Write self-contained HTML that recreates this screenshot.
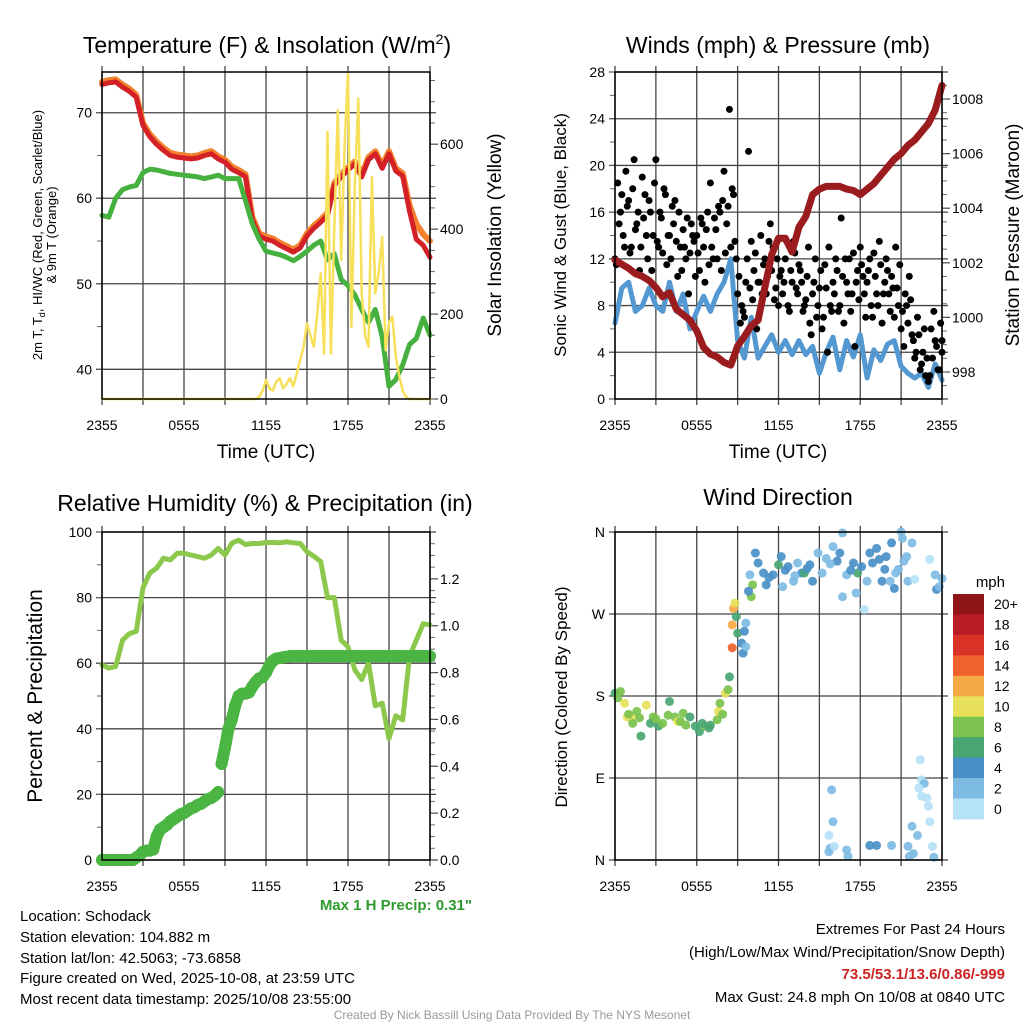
<!DOCTYPE html>
<html>
<head>
<meta charset="utf-8">
<style>
html,body{margin:0;padding:0;background:#fff;}
svg{display:block;font-family:"Liberation Sans",Arial,sans-serif;}
</style>
</head>
<body>
<svg id="chart" width="1024" height="1024" viewBox="0 0 1024 1024" xmlns="http://www.w3.org/2000/svg">
  <rect x="0" y="0" width="1024" height="1024" fill="#fff"/>
  <text x="267" y="53" font-size="23" text-anchor="middle">Temperature (F) &amp; Insolation (W/m<tspan font-size="14" dy="-9">2</tspan><tspan dy="9">)</tspan></text>
  <text x="778" y="53" font-size="23" text-anchor="middle">Winds (mph) &amp; Pressure (mb)</text>
  <text x="265" y="511" font-size="23" text-anchor="middle">Relative Humidity (%) &amp; Precipitation (in)</text>
  <text x="778" y="505" font-size="23" text-anchor="middle">Wind Direction</text>
  <text x="266" y="458" font-size="19" text-anchor="middle">Time (UTC)</text>
  <text x="778" y="458" font-size="19" text-anchor="middle">Time (UTC)</text>
  <text transform="translate(42,235) rotate(-90)" font-size="13" text-anchor="middle">2m T, T<tspan font-size="9" dy="3">d</tspan><tspan dy="-3">, HI/WC (Red, Green, Scarlet/Blue)</tspan></text>
  <text transform="translate(56,235) rotate(-90)" font-size="13" text-anchor="middle">&amp; 9m T (Orange)</text>
  <text transform="translate(501,235) rotate(-90)" font-size="19" text-anchor="middle">Solar Insolation (Yellow)</text>
  <text transform="translate(566,235) rotate(-90)" font-size="17" text-anchor="middle">Sonic Wind &amp; Gust (Blue, Black)</text>
  <text transform="translate(1019,235) rotate(-90)" font-size="19" text-anchor="middle">Station Pressure (Maroon)</text>
  <text transform="translate(42,696) rotate(-90)" font-size="21" text-anchor="middle">Percent &amp; Precipitation</text>
  <text transform="translate(567,697) rotate(-90)" font-size="17" text-anchor="middle">Direction (Colored By Speed)</text>
  <text x="1005" y="587" font-size="15" text-anchor="end">mph</text>
  <text x="472" y="910" font-size="15" font-weight="bold" fill="#2e9a2e" text-anchor="end">Max 1 H Precip: 0.31"</text>
  <g font-size="15">
    <text x="20" y="921">Location: Schodack</text>
    <text x="20" y="942">Station elevation: 104.882 m</text>
    <text x="20" y="963">Station lat/lon: 42.5063; -73.6858</text>
    <text x="20" y="983">Figure created on Wed, 2025-10-08, at 23:59 UTC</text>
    <text x="20" y="1004">Most recent data timestamp: 2025/10/08 23:55:00</text>
  </g>
  <g font-size="15" text-anchor="end">
    <text x="1005" y="934">Extremes For Past 24 Hours</text>
    <text x="1005" y="957">(High/Low/Max Wind/Precipitation/Snow Depth)</text>
    <text x="1005" y="979" font-weight="bold" fill="#cc2222">73.5/53.1/13.6/0.86/-999</text>
    <text x="1005" y="1002">Max Gust: 24.8 mph On 10/08 at 0840 UTC</text>
  </g>
  <text x="512" y="1019" font-size="12" fill="#999" text-anchor="middle">Created By Nick Bassill Using Data Provided By The NYS Mesonet</text>
</svg>
<script>
const timeTickLabels = ["2355","0555","1155","1755","2355"];
const timeTickHours = [0,6,12,18,24];
const tempTicks = [40,50,60,70];
const solarTicks = [0,200,400,600];
const windTicks = [0,4,8,12,16,20,24,28];
const pressureTicks = [998,1000,1002,1004,1006,1008];
const rhTicks = [0,20,40,60,80,100];
const precipTicks = [0.0,0.2,0.4,0.6,0.8,1.0,1.2];
const dirTicks = [0,90,180,270,360];
const dirTickLabels = ["N","E","S","W","N"];
const speedBinLabels = ["0","2","4","6","8","10","12","14","16","18","20+"];
const speedBinColors = ["#b5e2f7","#7fbce4","#4a90c8","#49a673","#7cc24e","#e6e05a","#f6aa45","#ef622c","#d93328","#b81c24","#8f1519"];

const tempRed = [73.3,73.5,73.6,73,72.5,71.8,68.5,67.2,66.3,65.6,65,64.8,64.7,64.6,64.7,65,65.2,64.6,64.2,63.4,63,62.5,57.5,55.6,55.2,55,54.5,54.1,53.7,54.2,55.6,56.5,57.2,58,61.5,62.5,63.3,64,62.5,64.5,65.2,63.5,65.2,63.2,62.6,58.5,55.2,54.5,53.1];
const tempOrange = [73.6,73.8,73.9,73.3,72.8,72.1,68.8,67.5,66.6,65.9,65.3,65.1,65,64.9,65,65.3,65.5,64.9,64.5,63.7,63.3,62.8,57.8,55.9,55.5,55.3,54.8,54.4,54,54.5,55.9,56.8,57.5,58.3,61.8,62.8,63.6,64.3,62.8,64.8,65.5,63.8,65.5,63.5,62.9,59.2,57,55.8,55];
const dewpoint = [58,57.8,60,61,61.3,61.5,63,63.4,63.3,63.1,62.9,62.8,62.7,62.6,62.5,62.3,62.5,62.7,62.3,62.3,62.3,59.7,57,55.2,53.8,53.6,53.4,53.1,52.7,53.2,53.8,54.5,55,52.8,53.5,50.5,49.8,48.7,47,45.5,47,43.8,38,38.8,40.5,42.9,43.6,46,44];
const solar = [0,0,0,0,0,0,0,0,0,0,0,0,0,0,0,0,0,0,0,0,0,0,0,0,0,0,0,0,0,0,0,0,0,0,0,0,0,0,0,0,0,0,0,0,0,0,
 5,20,45,25,20,40,49,25,35,49,30,60,92,123,178,150,123,200,296,107,629,107,400,680,327,600,770,170,500,707,249,150,123,523,249,300,382,115,180,194,100,53,20,5,0,0,0,0,0,0,0];
const windSpeed = [6.5,9.5,10,7.5,8,9.5,8,7.5,10,7.5,9,6,7.5,8.8,7.5,9,10,12,5,3.5,7,3.5,4.5,5.5,4,5,3.8,5,3.8,4.5,2.2,4,5.3,2.5,5,3.6,5.5,1.8,4.2,3.3,4.7,5,2.8,2.2,1.8,2.2,1,3,1.6];
const pressure = [1002.1,1001.95,1001.8,1001.6,1001.5,1001.35,1001.1,1000.75,1000.9,1000.3,1000.1,999.9,999.5,998.9,998.65,998.55,998.35,998.25,998.95,999.3,999.7,999.9,1001.1,1002.3,1002.9,1002.9,1002.4,1003.3,1003.7,1004.5,1004.7,1004.8,1004.8,1004.8,1004.7,1004.65,1004.5,1004.7,1004.9,1005.2,1005.5,1005.8,1006,1006.3,1006.5,1006.8,1007.1,1007.6,1008.5];
const gusts = [12,18.5,16,14,19.5, 17,13,20.5,15,11, 19,17.5,12,16,14, 20.5,13,15.5,18,11.5, 14,16.5,17,10.5,13,
 14.5,12,9,15,13.5, 14,11,15,10,16, 18.5,12,14.5,16.5,11, 19.5,15,24.8,18,13.5, 9,6.5,7.5,10,21.2,
 13.5,11,6,10,9, 12,10.5,15,13,9.5, 8,11,10,13.5,7.5, 10,12.5,9,11,7.5, 8.5,13,5.5,10,7,
 9.5,6,11.5,4,8, 10,12,7.5,15.5,6.5, 10,12,9,4.5,11, 13,10.5,7,11,8, 12.5,9,13.5,6.5,10,
 11,7.5,9.5,13,8, 6,4.5,8,10.5,5.5, 3.5,7,2.5,4,2, 1.5,6,7.5,4.5,2.5,5];
const gusts2 = [11.5,15,17.5,13,16.5, 12.5,18,14.5,16,13, 15.5,14,17,11,18.5, 13.5,16,12.5,17.5,14, 12,15,13.5,16,11,
 13,15.5,12.5,14,10.5, 12.5,15.5,13,14.5,11.5, 13,15.5,12,16,17, 12.5,16.5,13,17.5,12, 10.5,8,7,12,9.5,
 8.5,12.5,10,14,11.5, 9,13.5,11,8.5,12, 10.5,9,12,8,11, 13.5,9.5,11.5,10,8, 10.5,6.5,9,12,8,
 11,7,9.5,13,7.5, 9,11,8,10.5,12, 9,7.5,12.5,10,8.5, 11.5,9,10,12,7, 10.5,8,11.5,9,12,
 9,10.5,7,9.5,11.5, 7.5,9,6.5,8.5,5, 4,5.5,3,6,3.5, 2,3.5,5,2.5,6.5,4];
const relHumidity = [59.5,58.5,59,67,69,69.7,83,87.5,89,92,91.5,93.5,93.5,93,92.5,92,93,95,93,96.6,97.5,96.2,96.5,96.5,96.8,96.8,96.7,97,96.7,96.5,94,92.6,91,80,80,67,65,58,55,60,47,47.8,37,44,42.7,62,67,72,71.7];
const precip = [0,0,0,0,0,0,0,0,0,0,
 0.01,0.02,0.035,0.04,0.04,0.045,0.1,0.13,0.14,0.15,0.165,0.175,0.185,0.195,0.2,0.21,0.22,0.225,0.235,0.24,0.25,0.26,0.265,0.275,0.29,0.41,0.48,0.56,0.6,0.66,0.7,0.71,0.71,0.715,0.74,0.76,0.775,0.78,0.8,0.83,0.85,0.86,0.862,0.865,0.867,
 0.87,0.87,0.87,0.87,0.87,0.87,0.87,0.87,0.87,0.87,0.87,0.87,0.87,0.87,0.87,0.87,0.87,0.87,0.87,0.87,0.87,0.87,0.87,0.87,0.87,0.87,0.87,0.87,0.87,0.87,0.87,0.87,0.87,0.87,0.87,0.87,0.87,0.87,0.87,0.87,0.87,0.87];
const dirHours = [0,0.4,0.7,0.9,1.2,1.3,1.9,1.8,2.3,2.8,3.2,3.5,4,3.9,4.4,4.6,5,5.5,5.9,6.2,6.6,7,7.5,7.6,7.7,8.1,8.3,8.4,8.6,8.6,8.7,8.8,8.9,9,9.3,9.4,9.5,9.6,9.6,10,10.1,9.8,9.9,10.3,10.5,10.9,11.1,11.6,12,12.2,12.3,12.7,13.1,13.4,13.7,13.9,14.3,14.5,14.9,15.2,15.5,16,16.3,16.5,16.7,17,16.7,17.5,17.7,17.8,18.3,18.5,18.7,18.9,19.2,19.6,19.8,19.9,20.2,20.3,20.5,20.8,21,21.1,21.4,21.5,21.8,22,23.1,23.5,23.6,23.8,24,
 15.9,16,15.7,15.8,15.7,16.1,17,17.1,18.7,19.2,20.3,21.5,21.9,21.6,21.8,22.2,22.4,22.5,22.7,22.3,22.5,22.9,23,23.1,23.3,23.4,
 0.2,1.0,1.6,2.6,3.0,4.8,5.2,6.4,6.9,7.9,11.3,12.5,13.2,14.1,15.8,17.3,18.1,19.4,20.6,21.2];
const dirDegrees = [183,185,172,157,157,150,136,156,170,157,147,150,174,159,157,152,161,157,147,141,147,148,154,163,172,183,187,201,233,258,276,282,267,249,238,227,251,260,234,289,302,295,313,337,326,315,302,313,324,333,300,322,306,326,315,315,324,306,337,315,331,344,328,337,289,313,359,326,293,315,275,306,337,326,342,306,319,333,306,348,298,319,360,353,333,306,348,308,330,313,297,300,309,
 77,42,27,13,9,15,11,4,16,16,16,15,7,4,37,27,110,88,84,79,70,68,59,42,15,3,
 178,160,163,150,155,152,148,150,145,160,310,318,312,320,325,318,322,330,315,328];
const dirSpeeds = [6,8,10,10,10,8,6,8,10,9,7,8,7,8,9,10,8,6,6,6,8,7,8,10,8,10,9,6,14,12,12,10,6,6,5,4,4,3,3,8,8,4,3,4,4,4,4,4,6,4,3,4,3,3,4,6,4,4,3,3,3,3,4,4,3,3,3,4,3,6,1,3,4,4,4,4,4,4,3,4,4,3,3,3,3,3,3,1,1,3,4,3,3,
 3,3,1,3,3,1,3,3,4,4,3,3,3,3,3,3,1,1,2,1,1,1,1,1,1,2,
 8,9,8,7,8,9,8,7,6,8,4,4,3,4,3,4,4,4,3,3];

const NS = "http://www.w3.org/2000/svg";
const svg = document.getElementById('chart');
function mk(tag, attrs, parent){
  const e = document.createElementNS(NS, tag);
  for (const k in attrs) e.setAttribute(k, attrs[k]);
  (parent || svg).appendChild(e);
  return e;
}
const P1 = {L:102,R:430,T:72,B:399};
const P2 = {L:615,R:942,T:72,B:399};
const P3 = {L:102,R:430,T:532,B:860};
const P4 = {L:615,R:942,T:532,B:860};
const tempRange = [36.53,74.76], solarRange=[0,770];
const windRange = [0,28], presRange=[997.01,1008.99];
const rhRange = [0,100], precRange=[0,1.4];
const dirRange = [0,360];
function xs(p,t){ return p.L + t/24*(p.R-p.L); }
function ys(p,v,r){ return p.B - (v-r[0])/(r[1]-r[0])*(p.B-p.T); }

function drawFrame(p, name){
  const g = mk('g',{});
  
  
  for (let h=0; h<=24; h+=3){
    const x = xs(p,h);
    const ln = mk('line',{x1:x,y1:p.T-6,x2:x,y2:p.B+6,stroke:'#444','stroke-width':1.3},g);
    
    
  }
  timeTickHours.forEach((h,i)=>{
    const tx = mk('text',{x:xs(p,h),y:p.B+31,'font-size':14,'text-anchor':'middle'});
    tx.textContent = timeTickLabels[i];
    
    
  });
  return g;
}
function hGrid(p, ticks, range, labels, side, grid, minorStep){
  ticks.forEach((v,i)=>{
    const y = ys(p,v,range);
    if (grid){
      const ln = mk('line',{x1:p.L-6,y1:y,x2:p.R+6,y2:y,stroke:'#444','stroke-width':1.3});
      
      
    } else {
      const ln = mk('line',{x1:p.R,y1:y,x2:p.R+8,y2:y,stroke:'#444','stroke-width':1.2});
      
      
    }
    const tx = mk('text',{x: side==='left' ? p.L-10 : p.R+10, y:y+5,'font-size':14,'text-anchor': side==='left'?'end':'start'});
    tx.textContent = labels ? labels[i] : String(v);
    
    
  });
  if (minorStep){
    for (let v=Math.ceil(range[0]/minorStep)*minorStep; v<=range[1]; v+=minorStep){
      const y = ys(p,v,range);
      const x0 = side==='left' ? p.L-5 : p.R, x1 = side==='left' ? p.L : p.R+5;
      const ln = mk('line',{x1:x0,y1:y,x2:x1,y2:y,stroke:'#666','stroke-width':1});
      
      
    }
  }
}
function border(p,name){
  const r = mk('rect',{x:p.L,y:p.T,width:p.R-p.L,height:p.B-p.T,fill:'none',stroke:'#000','stroke-width':1.5});
  
  
}
function line(p, arr, range, color, width, name){
  const step = 24/(arr.length-1);
  const pts = arr.map((v,i)=> xs(p,i*step).toFixed(1)+','+ys(p,v,range).toFixed(1)).join(' ');
  const pl = mk('polyline',{points:pts,fill:'none',stroke:color,'stroke-width':width,'stroke-linejoin':'round','stroke-linecap':'round'});
  
  
  return pl;
}

drawFrame(P1,'temperature');
hGrid(P1, tempTicks, tempRange, null, 'left', true, 5);
hGrid(P1, solarTicks, solarRange, null, 'right', false, 50);
line(P1, tempOrange, tempRange, '#f3812d', 6, 'nine-meter-temperature-line');
line(P1, tempRed, tempRange, '#d42027', 5, 'two-meter-temperature-line');
line(P1, dewpoint, tempRange, '#46b13f', 5, 'dewpoint-line');
line(P1, solar, solarRange, '#f7e05a', 2.5, 'solar-insolation-line');
border(P1,'temperature');

drawFrame(P2,'winds');
hGrid(P2, windTicks, windRange, null, 'left', true, 2);
hGrid(P2, pressureTicks, presRange, null, 'right', false, 0.5);
line(P2, windSpeed, windRange, '#5498d2', 5, 'sonic-wind-line');
{
  const g = mk('g',{});
  
  
  const step = 24/(gusts.length-1);
  gusts.forEach((v,i)=>{
    const c = mk('circle',{cx:xs(P2,i*step),cy:ys(P2,v,windRange),r:3.5,fill:'#000'},g);
    
    
  });
  const step2 = 24/(gusts2.length-1);
  gusts2.forEach((v,i)=>{
    const t = Math.min(24, i*step2 + 0.1);
    const c = mk('circle',{cx:xs(P2,t),cy:ys(P2,v,windRange),r:3.5,fill:'#000'},g);
    
    
  });
}
line(P2, pressure, presRange, '#9b1c1f', 7, 'station-pressure-line');
border(P2,'winds');

drawFrame(P3,'humidity');
hGrid(P3, rhTicks, rhRange, null, 'left', true, 10);
hGrid(P3, precipTicks, precRange, precipTicks.map(v=>v.toFixed(1)), 'right', false, 0.05);
line(P3, relHumidity, rhRange, '#8cc84b', 5, 'relative-humidity-line');
{
  const step = 24/(precip.length-1);
  const g = mk('g',{});
  
  
  for (let i=1;i<precip.length;i++){
    if (precip[i]-precip[i-1] > 0.1) continue;
    const s = mk('line',{x1:xs(P3,(i-1)*step),y1:ys(P3,precip[i-1],precRange),x2:xs(P3,i*step),y2:ys(P3,precip[i],precRange),stroke:'#4bb543','stroke-width':12,'stroke-linecap':'round'},g);
    
    
  }
  precip.forEach((v,i)=>{
    const c = mk('circle',{cx:xs(P3,i*step),cy:ys(P3,v,precRange),r:6,fill:'#4bb543'},g);
    
    
  });
}
border(P3,'humidity');

drawFrame(P4,'wind-direction');
hGrid(P4, dirTicks, dirRange, dirTickLabels, 'left', true, 0);
{
  const g = mk('g',{});
  
  
  dirHours.forEach((t,i)=>{
    const bin = Math.min(10, Math.floor(dirSpeeds[i]/2));
    const c = mk('circle',{cx:xs(P4,t),cy:ys(P4,dirDegrees[i],dirRange),r:4.5,fill:speedBinColors[bin],'fill-opacity':0.92},g);
    
    
  });
}
border(P4,'wind-direction');
{
  const cbTop = 594, cbH = 225, cbX = 953, cbW = 31;
  const n = speedBinColors.length, bh = cbH/n;
  const g = mk('g',{});
  
  
  for (let k=0;k<n;k++){
    const idx = n-1-k;
    const r = mk('rect',{x:cbX,y:cbTop+k*bh,width:cbW,height:bh+0.5,fill:speedBinColors[idx]},g);
    
    
    const tx = mk('text',{x:cbX+cbW+10,y:cbTop+k*bh+bh/2+5,'font-size':14},g);
    tx.textContent = speedBinLabels[idx];
    
    
  }
}
</script>
</body>
</html>
